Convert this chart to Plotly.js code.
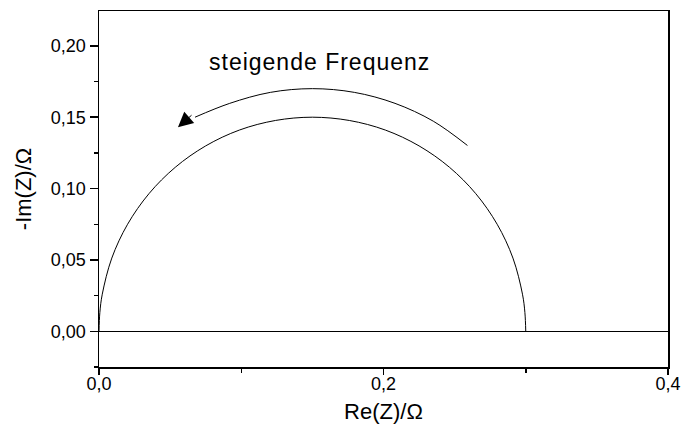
<!DOCTYPE html>
<html>
<head>
<meta charset="utf-8">
<script src="https://cdn.plot.ly/plotly-3.0.1.min.js"></script>
<style>
  html, body { margin: 0; padding: 0; background: #fff; }
  #chart { width: 681px; height: 438px; }
  .annotation-text { letter-spacing: 1px; }
</style>
</head>
<body>
<div id="chart"></div>
<script>
// Nyquist plot of an RC element: semicircle from 0 to 0.3 Ohm
const reZ = [0, 0.0006, 0.0023, 0.0090, 0.0201, 0.0351, 0.0536, 0.0750, 0.0987, 0.1240,
             0.1500, 0.1760, 0.2013, 0.2250, 0.2464, 0.2649, 0.2799, 0.2910, 0.2977, 0.2994, 0.3000];
const imZ = [0, 0.0131, 0.0260, 0.0513, 0.0750, 0.0964, 0.1149, 0.1299, 0.1410, 0.1477,
             0.1500, 0.1477, 0.1410, 0.1299, 0.1149, 0.0964, 0.0750, 0.0513, 0.0260, 0.0131, 0];

// direction arrow ("steigende Frequenz"), drawn above the semicircle
const arrowRe = [0.2590, 0.2350, 0.2081, 0.1795, 0.1500, 0.1205, 0.0919, 0.0675];
const arrowIm = [0.1302, 0.1472, 0.1597, 0.1674, 0.1700, 0.1674, 0.1597, 0.1500];
const arrowTip = [0.0555, 0.1430];
const arrowTail = [0.0661, 0.1523];

const xTicks = [0, 0.2, 0.4];
const yTicks = [0, 0.05, 0.10, 0.15, 0.20];

const FONT = 'Liberation Sans, Arial, sans-serif';

const traces = [
  {
    x: reZ, y: imZ, type: 'scatter', mode: 'lines',
    line: { color: '#000', width: 1, shape: 'spline', smoothing: 1 },
    hoverinfo: 'skip', showlegend: false
  },
  {
    x: arrowRe, y: arrowIm, type: 'scatter', mode: 'lines',
    line: { color: '#000', width: 1, shape: 'spline', smoothing: 1 },
    hoverinfo: 'skip', showlegend: false
  }
];

const axisCommon = {
  showgrid: false,
  showline: true, linecolor: '#000', linewidth: 1.5, mirror: true,
  ticks: 'outside', tickcolor: '#000', tickwidth: 1.5,
  tickfont: { family: FONT, size: 18, color: '#000' }
};

const layout = {
  width: 681, height: 438,
  margin: { l: 99, r: 13, t: 11, b: 71 },
  paper_bgcolor: '#fff', plot_bgcolor: '#fff',
  separators: ',.',
  showlegend: false,
  xaxis: Object.assign({}, axisCommon, {
    range: [0, 0.4],
    tickvals: xTicks, tickformat: '.1f', ticklen: 6,
    ticklabelstandoff: -6,
    zeroline: false,
    minor: { dtick: 0.1, tick0: 0, ticks: 'outside', ticklen: 4, tickcolor: '#000', tickwidth: 1.5 },
    title: { text: 'Re(Z)/Ω', standoff: 10, font: { family: FONT, size: 22, color: '#000' } }
  }),
  yaxis: Object.assign({}, axisCommon, {
    range: [-0.025, 0.2244],
    tickvals: yTicks, tickformat: '.2f', ticklen: 8,
    zeroline: true, zerolinecolor: '#000', zerolinewidth: 1.5,
    minor: { dtick: 0.025, tick0: 0, ticks: 'outside', ticklen: 4, tickcolor: '#000', tickwidth: 1.5 },
    title: { text: '-Im(Z)/Ω', standoff: 13, font: { family: FONT, size: 22, color: '#000' } }
  }),
  annotations: [
    {
      x: arrowTip[0], y: arrowTip[1], xref: 'x', yref: 'y',
      ax: arrowTail[0], ay: arrowTail[1], axref: 'x', ayref: 'y',
      text: '', showarrow: true, arrowhead: 2, arrowsize: 3, arrowwidth: 1, arrowcolor: '#000'
    },
    {
      x: 0.1547, y: 0.1886, xref: 'x', yref: 'y',
      text: 'steigende Frequenz', showarrow: false,
      xanchor: 'center', yanchor: 'middle',
      font: { family: FONT, size: 23, color: '#000' }
    }
  ]
};

Plotly.newPlot('chart', traces, layout, { staticPlot: true, displayModeBar: false });
</script>
</body>
</html>
